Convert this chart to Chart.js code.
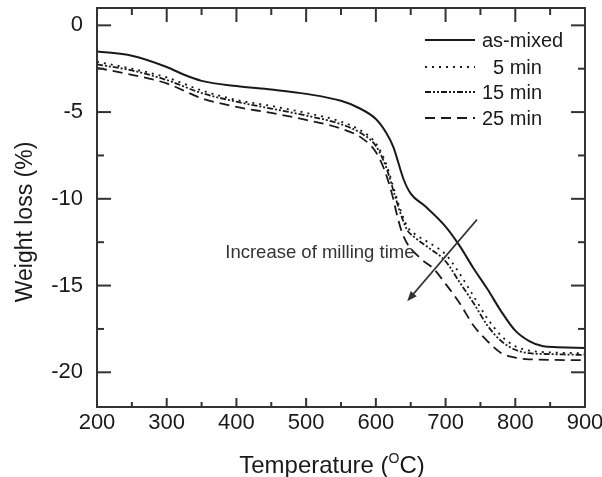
<!DOCTYPE html>
<html><head><meta charset="utf-8">
<script src="https://cdn.jsdelivr.net/npm/chart.js@4"></script>
<style>html,body{margin:0;padding:0;background:#fff;overflow:hidden}</style>
</head><body>
<canvas id="c" width="602" height="477" style="display:block;width:602px;height:477px"></canvas>
<script>
// ---- data ----
const xTickValues = [200, 300, 400, 500, 600, 700, 800, 900];
const xMinorTicks = [250, 350, 450, 550, 650, 750, 850];
const yTickValues = [0, -5, -10, -15, -20];
const yMinorTicks = [-2.5, -7.5, -12.5, -17.5];
const seriesNames = ['as-mixed', '5 min', '15 min', '25 min'];

const mixedT = [200, 250, 300, 325, 350, 400, 450, 500, 550, 575, 600, 615, 625, 640, 650, 670, 700, 720, 740, 760, 780, 800, 820, 840, 860, 900];
const mixedW = [-1.5, -1.75, -2.4, -2.85, -3.2, -3.5, -3.7, -3.95, -4.35, -4.75, -5.4, -6.2, -7.0, -8.9, -9.7, -10.4, -11.6, -12.7, -14.0, -15.2, -16.5, -17.6, -18.2, -18.5, -18.55, -18.6];

const min5T = [200, 250, 300, 350, 400, 450, 500, 550, 580, 600, 615, 625, 635, 645, 655, 675, 700, 720, 740, 760, 780, 800, 820, 850, 900];
const min5W = [-2.1, -2.5, -3.0, -3.75, -4.3, -4.65, -5.05, -5.55, -6.1, -6.8, -8.0, -9.3, -10.6, -11.6, -12.0, -12.5, -13.2, -14.3, -15.6, -16.9, -17.9, -18.5, -18.75, -18.85, -18.9];

const min15T = [200, 250, 300, 350, 400, 450, 500, 550, 580, 600, 615, 625, 635, 645, 655, 675, 700, 720, 740, 760, 780, 800, 820, 850, 900];
const min15W = [-2.25, -2.6, -3.15, -3.9, -4.4, -4.8, -5.2, -5.7, -6.25, -6.95, -8.2, -9.5, -10.8, -11.8, -12.2, -12.8, -13.6, -14.8, -16.0, -17.3, -18.2, -18.7, -18.9, -18.95, -19.0];

const min25T = [200, 250, 300, 350, 400, 450, 500, 550, 580, 600, 612, 623, 632, 640, 663, 682, 700, 720, 740, 760, 780, 800, 820, 900];
const min25W = [-2.45, -2.85, -3.35, -4.2, -4.7, -5.05, -5.45, -5.95, -6.5, -7.3, -8.3, -9.7, -11.2, -12.2, -13.4, -14.0, -14.9, -16.0, -17.3, -18.2, -18.9, -19.15, -19.25, -19.3];

const annotationText = 'Increase of milling time';
const annotationPos = [384, -13.1];         // left edge / centre of text, data units
const arrowFrom = [745, -11.2];
const arrowTo = [645, -15.9];

const FONT = '"Liberation Sans", Arial, Helvetica, sans-serif';
const INK = '#1a1a1a';
const dashes = [[], [2, 5], [6, 2, 2, 2, 2, 2], [10, 6]];

function pts(t, w) { return t.map((x, i) => ({ x: x, y: w[i] })); }
const seriesData = [pts(mixedT, mixedW), pts(min5T, min5W), pts(min15T, min15W), pts(min25T, min25W)];

const decor = {
  id: 'decor',
  afterDraw(chart) {
    const ctx = chart.ctx, a = chart.chartArea;
    const xs = chart.scales.x, ys = chart.scales.y;
    ctx.save();
    ctx.strokeStyle = '#333';
    ctx.lineWidth = 2;
    ctx.setLineDash([]);
    // frame
    ctx.strokeRect(a.left, a.top, a.right - a.left, a.bottom - a.top);
    // ticks (inward)
    const tick = (x1, y1, x2, y2) => { ctx.beginPath(); ctx.moveTo(x1, y1); ctx.lineTo(x2, y2); ctx.stroke(); };
    xTickValues.forEach(v => { const p = xs.getPixelForValue(v); tick(p, a.bottom, p, a.bottom - 9); tick(p, a.top, p, a.top + 14); });
    xMinorTicks.forEach(v => { const p = xs.getPixelForValue(v); tick(p, a.bottom, p, a.bottom - 5); tick(p, a.top, p, a.top + 7); });
    yTickValues.forEach(v => { const p = ys.getPixelForValue(v); tick(a.left, p, a.left + 14, p); tick(a.right, p, a.right - 14, p); });
    yMinorTicks.forEach(v => { const p = ys.getPixelForValue(v); tick(a.left, p, a.left + 7, p); tick(a.right, p, a.right - 7, p); });

    // legend
    const legY = [40, 67, 92, 118];
    ctx.lineWidth = 1.8;
    ctx.strokeStyle = INK;
    ctx.fillStyle = INK;
    ctx.font = '20px ' + FONT;
    ctx.textBaseline = 'middle';
    ctx.textAlign = 'left';
    seriesNames.forEach((n, i) => {
      ctx.setLineDash(dashes[i]);
      tick(425, legY[i], 475, legY[i]);
      const tx = n === '5 min' ? 493 : 482;
      ctx.fillText(n, tx, legY[i] + 1);
    });
    ctx.setLineDash([]);

    // annotation text
    ctx.fillStyle = '#333';
    ctx.font = '18.5px ' + FONT;
    ctx.fillText(annotationText, xs.getPixelForValue(annotationPos[0]), ys.getPixelForValue(annotationPos[1]));

    // arrow
    const x1 = xs.getPixelForValue(arrowFrom[0]), y1 = ys.getPixelForValue(arrowFrom[1]);
    const x2 = xs.getPixelForValue(arrowTo[0]), y2 = ys.getPixelForValue(arrowTo[1]);
    const ang = Math.atan2(y2 - y1, x2 - x1);
    ctx.strokeStyle = '#333';
    ctx.fillStyle = '#333';
    ctx.lineWidth = 1.6;
    tick(x1, y1, x2 - 6 * Math.cos(ang), y2 - 6 * Math.sin(ang));
    ctx.beginPath();
    ctx.moveTo(x2, y2);
    ctx.lineTo(x2 - 10 * Math.cos(ang) + 4 * Math.sin(ang), y2 - 10 * Math.sin(ang) - 4 * Math.cos(ang));
    ctx.lineTo(x2 - 10 * Math.cos(ang) - 4 * Math.sin(ang), y2 - 10 * Math.sin(ang) + 4 * Math.cos(ang));
    ctx.closePath();
    ctx.fill();

    // axis titles
    ctx.fillStyle = INK;
    ctx.textBaseline = 'alphabetic';
    // x title with superscript O
    const big = '24px ' + FONT, small = '14px ' + FONT;
    const p1 = 'Temperature (', p2 = 'O', p3 = 'C)';
    ctx.font = big; const w1 = ctx.measureText(p1).width, w3 = ctx.measureText(p3).width;
    ctx.font = small; const w2 = ctx.measureText(p2).width;
    const cx = 332;
    let sx = cx - (w1 + w2 + w3) / 2;
    const by = 473;
    ctx.font = big; ctx.fillText(p1, sx, by);
    ctx.font = small; ctx.fillText(p2, sx + w1, by - 10);
    ctx.font = big; ctx.fillText(p3, sx + w1 + w2, by);
    // y title
    ctx.translate(32, 222);
    ctx.rotate(-Math.PI / 2);
    ctx.textAlign = 'center';
    ctx.font = '23px ' + FONT;
    ctx.fillText('Weight loss (%)', 0, 0);
    ctx.restore();
  }
};

new Chart(document.getElementById('c'), {
  type: 'line',
  data: {
    datasets: seriesNames.map((n, i) => ({
      label: n,
      data: seriesData[i],
      borderColor: INK,
      borderWidth: i === 0 ? 2 : 1.8,
      borderDash: dashes[i],
      pointRadius: 0,
      fill: false,
      cubicInterpolationMode: 'monotone'
    }))
  },
  options: {
    responsive: false,
    animation: false,
    devicePixelRatio: 1,
    layout: { padding: { top: 8, right: 17, left: 0, bottom: 0 } },
    plugins: { legend: { display: false }, tooltip: { enabled: false } },
    scales: {
      x: {
        type: 'linear', min: 200, max: 900,
        grid: { display: false, drawTicks: false },
        border: { display: false },
        ticks: { stepSize: 100, padding: 3, color: INK, font: { size: 22, family: FONT }, maxRotation: 0, autoSkip: false },
        afterFit(s) { s.height = 70; s.paddingLeft = 0; s.paddingRight = 0; }
      },
      y: {
        type: 'linear', min: -22, max: 1,
        grid: { display: false, drawTicks: false },
        border: { display: false },
        ticks: { stepSize: 5, includeBounds: false, padding: 14, color: INK, font: { size: 22, family: FONT }, callback: v => String(v) },
        afterFit(s) { s.width = 97; s.paddingTop = 0; s.paddingBottom = 0; }
      }
    }
  },
  plugins: [decor]
});
</script>
</body></html>
